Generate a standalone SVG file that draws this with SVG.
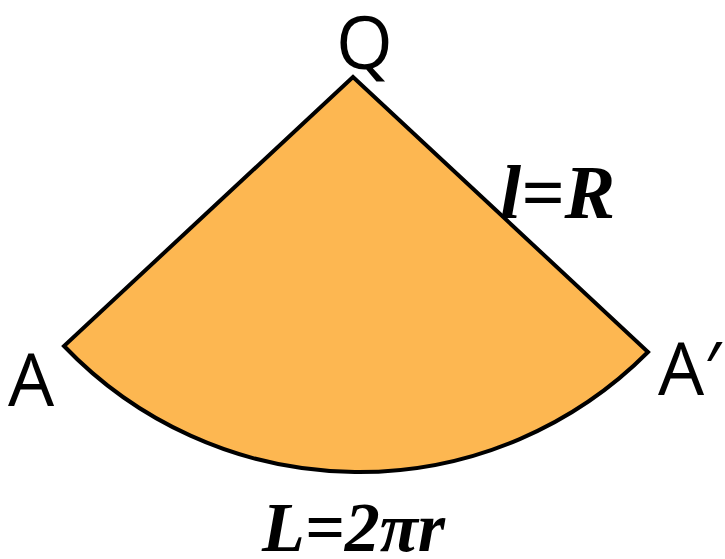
<svg xmlns="http://www.w3.org/2000/svg" width="725" height="559" viewBox="0 0 725 559">
<style>
.lbl{font-family:"Open Sans","Noto Sans",sans-serif;font-size:73px;fill:#000}
.math{font-family:"Liberation Serif","Times New Roman",serif;font-weight:bold;font-style:italic;fill:#000}
</style>
<rect width="725" height="559" fill="#fff"/>
<g id="sector">
<path d="M353,77 L64,346 A408,408 0 0 0 648,352 Z" fill="#FDB751" stroke="#000" stroke-width="4" stroke-linejoin="miter"/>
</g>
<g id="labels">
<text class="lbl" x="336" y="69">Q</text>
<text class="lbl" x="8" y="406">A</text>
<text class="lbl" x="658" y="395">A′</text>
<text class="math" x="500" y="218" font-size="76">l=R</text>
<text class="math" x="262" y="551" font-size="70">L=2πr</text>
</g>
</svg>
